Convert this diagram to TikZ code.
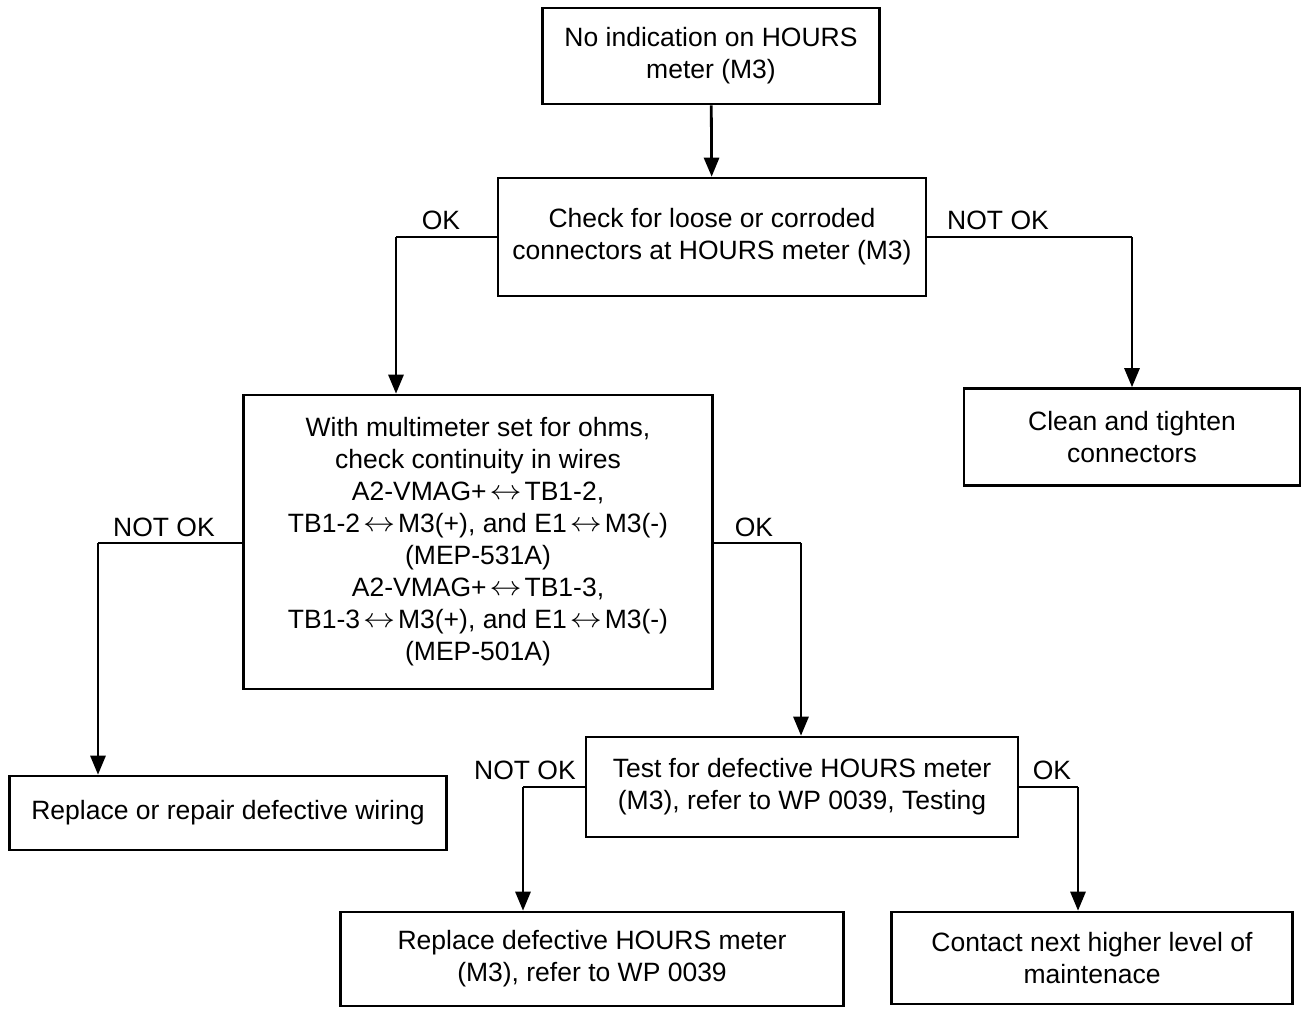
\documentclass[tikz,border=0pt]{standalone}
\usepackage{fontspec}
\setmainfont{Liberation Sans}
\usepackage{graphicx}
\usepackage{tikz}
\usetikzlibrary{arrows.meta,positioning}

\newcommand{\wirelr}{\kern3pt\raisebox{1pt}{\resizebox{32pt}{10pt}{$\leftrightarrow$}}\kern3pt}

\begin{document}
\begin{tikzpicture}[
  x=1pt, y=-1pt,
  box/.style={
    draw,
    line width=2.6pt,
    align=center,
    inner sep=0pt,
    font=\fontsize{26.5}{32}\selectfont
  },
  lbl/.style={inner sep=0pt, font=\fontsize{26.5}{32}\selectfont},
  arrow/.style={-{Triangle[length=19pt,width=15pt]}, line width=2.8pt},
  link/.style={line width=2.8pt}
]
\useasboundingbox (0,0) rectangle (1306,1009);

\node[box, minimum width=337pt, minimum height=96pt] (start) at (711,56)
  {No indication on HOURS\\meter (M3)};
\node[box, minimum width=428pt, minimum height=118pt] (conn) at (712,237)
  {Check for loose or corroded\\connectors at HOURS meter (M3)};
\node[box, minimum width=336pt, minimum height=97pt] (clean) at (1132,437)
  {Clean and tighten\\connectors};
\node[box, minimum width=469pt, minimum height=294pt] (ohms) at (478,542)
  {With multimeter set for ohms,\\check continuity in wires\\
   A2-VMAG+\wirelr TB1-2,\\TB1-2\wirelr M3(+), and E1\wirelr M3(-)\\(MEP-531A)\\
   A2-VMAG+\wirelr TB1-3,\\TB1-3\wirelr M3(+), and E1\wirelr M3(-)\\(MEP-501A)};
\node[box, minimum width=437pt, minimum height=74pt] (wiring) at (228,813)
  {Replace or repair defective wiring};
\node[box, minimum width=432pt, minimum height=100pt] (meter) at (802,787)
  {Test for defective HOURS meter\\(M3), refer to WP 0039, Testing};
\node[box, minimum width=503pt, minimum height=94pt] (replace) at (592,959)
  {Replace defective HOURS meter\\(M3), refer to WP 0039};
\node[box, minimum width=401pt, minimum height=92pt] (contact) at (1092,958)
  {Contact next higher level of\\maintenace};

% bends of the connectors
\coordinate (connok) at (396,237);
\coordinate (connbad) at (1132,237);
\coordinate (ohmsbad) at (98,543);
\coordinate (ohmsok) at (801,543);
\coordinate (meterbad) at (523,787);
\coordinate (meterok) at (1078,787);

\draw[arrow] (start) -- (conn);
\draw[link] (conn.west) -- (connok);
\draw[arrow] (connok) -- (connok |- ohms.north);
\draw[link] (conn.east) -- (connbad);
\draw[arrow] (connbad) -- (clean.north);
\draw[link] (ohms.west |- ohmsbad) -- (ohmsbad);
\draw[arrow] (ohmsbad) -- (ohmsbad |- wiring.north);
\draw[link] (ohms.east |- ohmsok) -- (ohmsok);
\draw[arrow] (ohmsok) -- (ohmsok |- meter.north);
\draw[link] (meter.west) -- (meterbad);
\draw[arrow] (meterbad) -- (meterbad |- replace.north);
\draw[link] (meter.east) -- (meterok);
\draw[arrow] (meterok) -- (meterok |- contact.north);

\node[lbl] (lconnok) at (441,220) {OK};
\node[lbl] (lconnbad) at (998,220) {NOT OK};
\node[lbl] (lohmsbad) at (164,527) {NOT OK};
\node[lbl] (lohmsok) at (754,527) {OK};
\node[lbl] (lmeterbad) at (525,770) {NOT OK};
\node[lbl] (lmeterok) at (1052,770) {OK};
\end{tikzpicture}
\end{document}
